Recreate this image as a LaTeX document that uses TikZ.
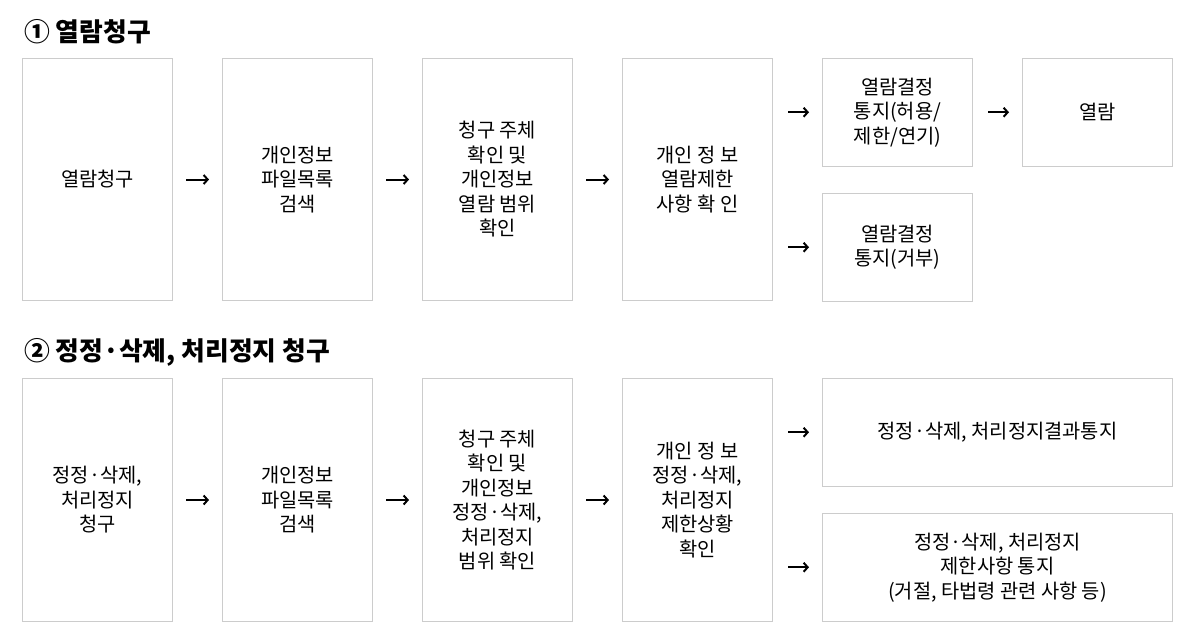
\documentclass[tikz,border=0pt]{standalone}
\usepackage{fontspec}
\setmainfont{Noto Sans CJK KR}
\usetikzlibrary{arrows.meta}
\begin{document}
\begin{tikzpicture}[x=1pt,y=-1pt,
  box/.style={draw=black!20, line width=1pt, fill=white, anchor=north west,
    inner sep=0pt, align=center, font=\fontsize{19.8}{24.5}\selectfont},
  tall/.style={box, minimum width=150pt, minimum height=242pt},
  short/.style={box, minimum width=150pt, minimum height=107.5pt},
  wide/.style={box, minimum width=350pt, minimum height=107.5pt},
  title/.style={anchor=west, inner sep=0pt, font=\fontsize{25.8}{30}\selectfont\bfseries},
  arr/.style={line width=2pt, -{Straight Barb[length=4pt,width=9pt,line width=2pt]},
    shorten <=13pt, shorten >=13pt}]
\useasboundingbox[fill=white] (0,0) rectangle (1200,641);

% Section 1
\node[title] (t1) at (24,32) {① 열람청구};
\node[tall] (a1) at (22,58) {열람청구};
\node[tall] (a2) at (222,58) {개인정보\\파일목록\\검색};
\node[tall] (a3) at (422,58) {청구 주체\\확인 및\\개인정보\\열람 범위\\확인};
\node[tall] (a4) at (622,58) {개인 정 보\\열람제한\\사항 확 인};
\node[short] (a5) at (822,58) {열람결정\\통지(허용/\\제한/연기)};
\node[short] (a6) at (822,193) {열람결정\\통지(거부)};
\node[short] (a7) at (1022,58) {열람};

\draw[arr] (a1) -- (a2);
\draw[arr] (a2) -- (a3);
\draw[arr] (a3) -- (a4);
\draw[arr, shorten <=15pt] (a4.east |- a5.center) -- (a5.west);
\draw[arr, shorten <=15pt] (a4.east |- a6.center) -- (a6.west);
\draw[arr, shorten <=15pt] (a5) -- (a7);

% Section 2
\node[title] (t2) at (24,352) {② 정정·삭제, 처리정지 청구};
\node[tall, minimum height=243pt] (b1) at (22,378) {정정·삭제,\\처리정지\\청구};
\node[tall, minimum height=243pt] (b2) at (222,378) {개인정보\\파일목록\\검색};
\node[tall, minimum height=243pt] (b3) at (422,378) {청구 주체\\확인 및\\개인정보\\정정·삭제,\\처리정지\\범위 확인};
\node[tall, minimum height=243pt] (b4) at (622,378) {개인 정 보\\정정·삭제,\\처리정지\\제한상황\\확인};
\node[wide] (b5) at (822,378) {정정·삭제, 처리정지결과통지};
\node[wide] (b6) at (822,513) {정정·삭제, 처리정지\\제한사항 통지\\(거절, 타법령 관련 사항 등)};

\draw[arr] (b1) -- (b2);
\draw[arr] (b2) -- (b3);
\draw[arr] (b3) -- (b4);
\draw[arr, shorten <=15pt] (b4.east |- b5.center) -- (b5.west);
\draw[arr, shorten <=15pt] (b4.east |- b6.center) -- (b6.west);
\end{tikzpicture}
\end{document}
